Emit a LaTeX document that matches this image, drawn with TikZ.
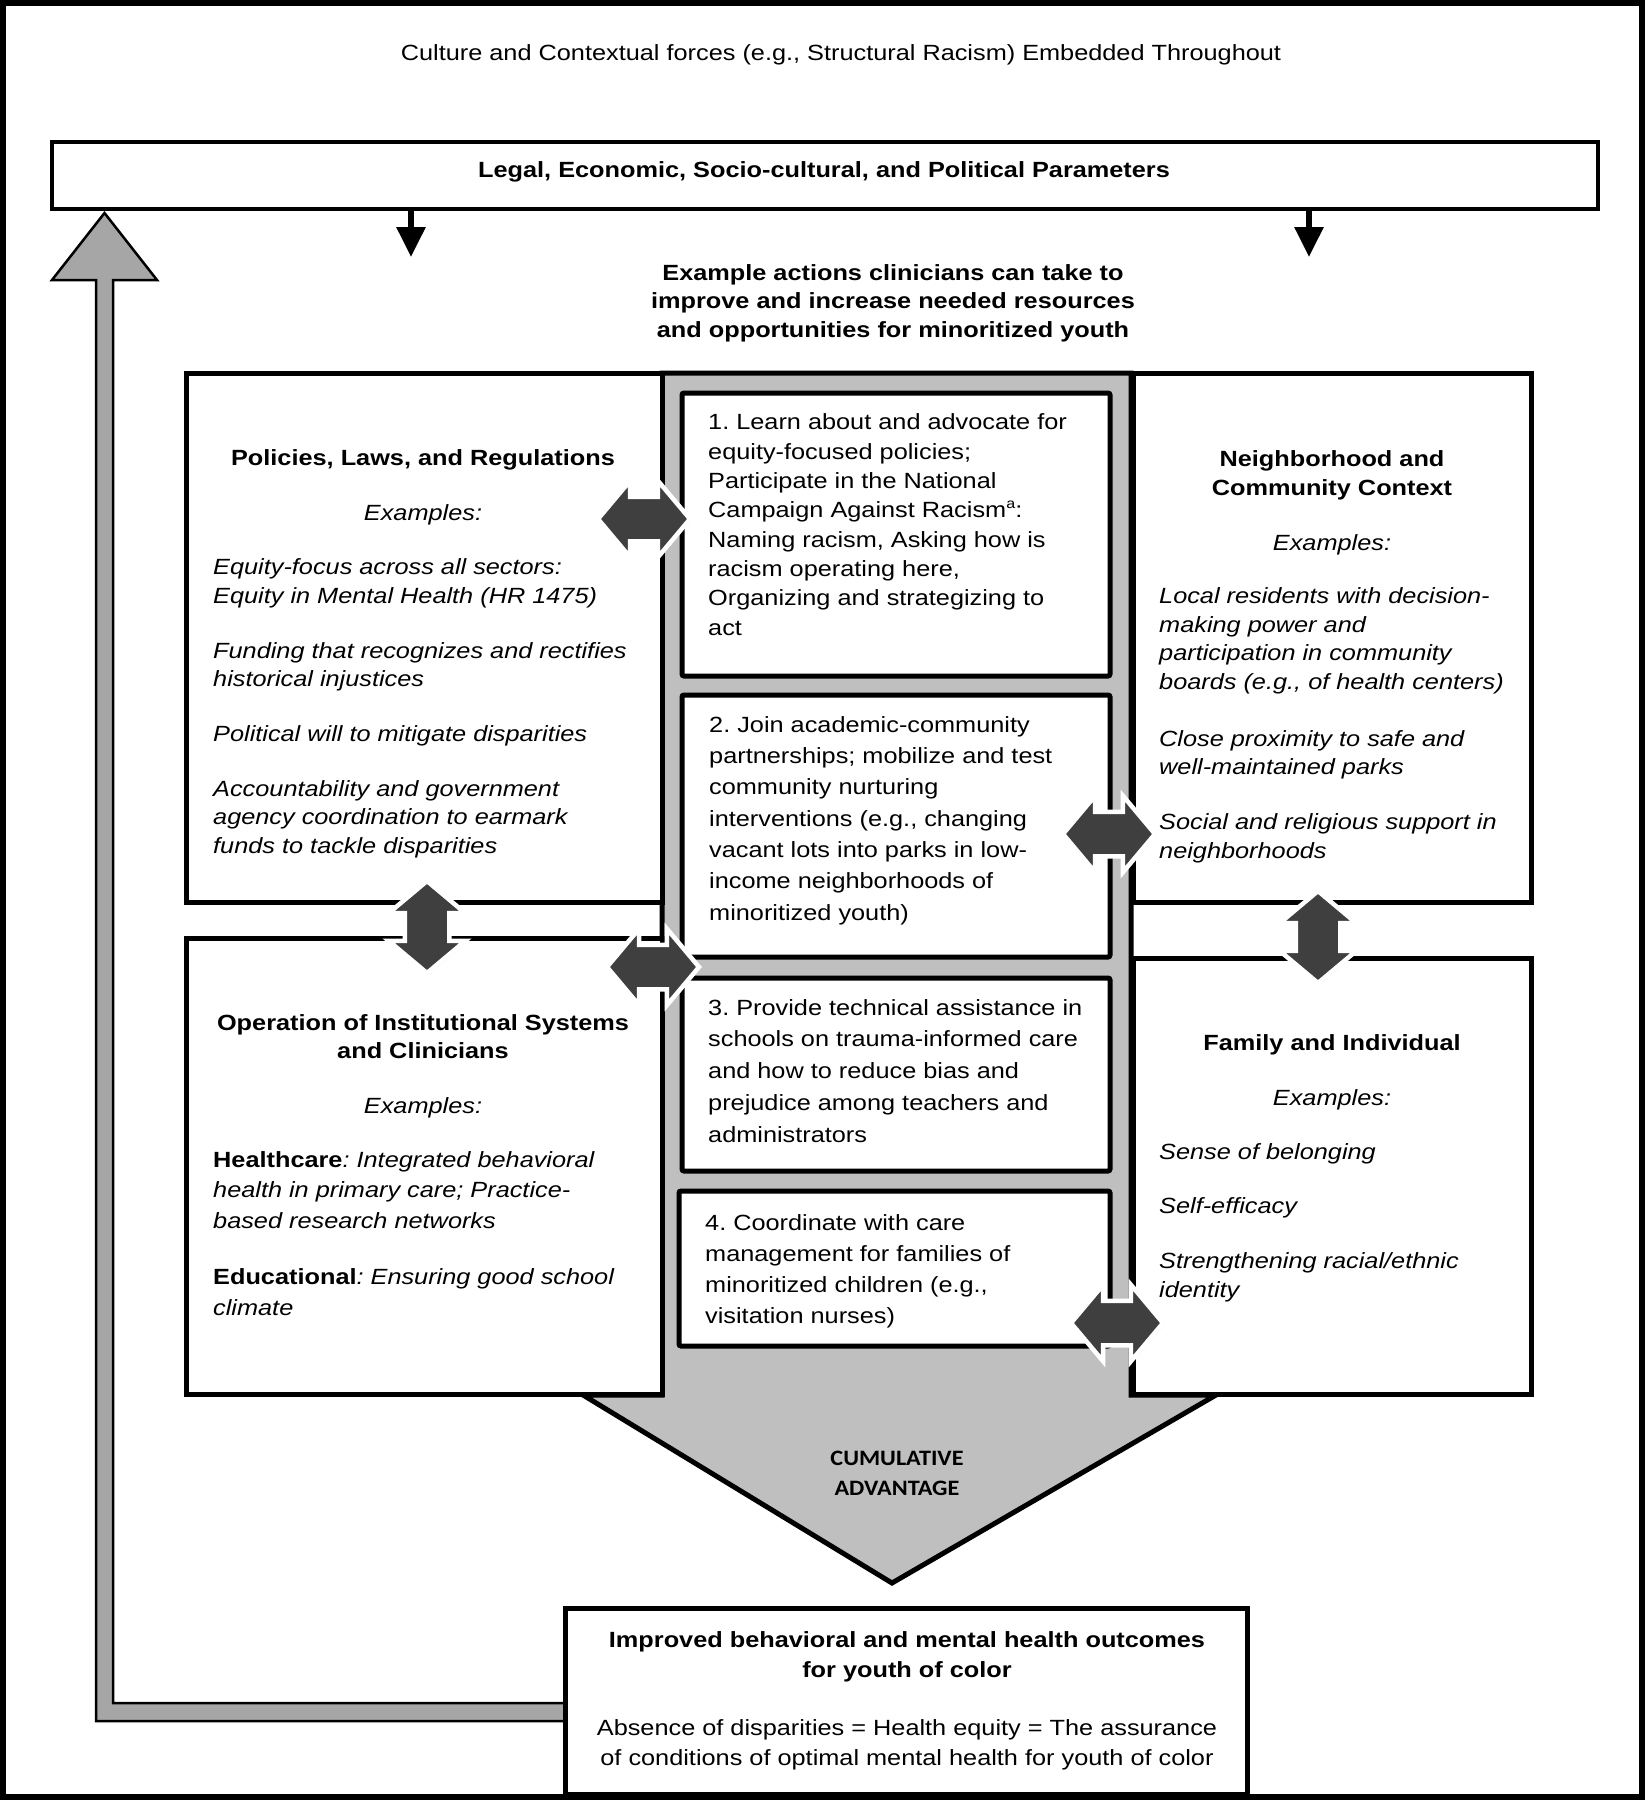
\documentclass[tikz,border=0pt]{standalone}
\usepackage{fontspec}
\setmainfont{Liberation Sans}[FakeStretch=1.15]
\newfontfamily\calibrifont{Carlito}[FakeStretch=1.1]
\usetikzlibrary{shapes.arrows,arrows.meta,shadows}
\definecolor{colgray}{HTML}{BFBFBF}
\definecolor{feedgray}{HTML}{A6A6A6}
\definecolor{linkgray}{HTML}{3F3F3F}
\newcommand{\supa}{\raisebox{0.42em}{\fontsize{14}{14}\selectfont a}}
\frenchspacing
\tikzset{
  frame/.style={draw, line width=5pt, fill=white, inner sep=0pt},
  actbox/.style={frame, rounded corners=2pt},
  hdr/.style={font=\fontsize{22}{29}\selectfont\bfseries, align=center, inner sep=0pt, anchor=base},
  exlabel/.style={font=\fontsize{22}{29}\selectfont\itshape, inner sep=0pt, anchor=base},
  txt/.style={font=\fontsize{22}{#1}\selectfont, align=left, inner sep=0pt, anchor=base west},
  itxt/.style={txt=#1, font=\fontsize{22}{#1}\selectfont\itshape},
  link/.style={double arrow, double arrow tip angle=100, double arrow head extend=16pt,
    minimum height=92pt, minimum width=72pt, inner xsep=0pt, inner ysep=20pt,
    fill=linkgray, draw=white, line width=4.5pt,
    drop shadow={opacity=0.35, shadow xshift=1.5pt, shadow yshift=-1.5pt}},
  pushdown/.style={line width=6pt, -{Triangle[width=28pt,length=30pt]}}
}
\begin{document}
\begin{tikzpicture}[x=1pt, y=-1pt]
\useasboundingbox (0,0) rectangle (1645,1800);
\draw[line width=6pt] (3,3) rectangle (1642,1797);
\node[anchor=base, inner sep=0pt, font=\fontsize{22}{29}\selectfont] (culture) at (841,60) {Culture and Contextual forces (e.g., Structural Racism) Embedded Throughout};

% feedback loop back to the parameters
\draw[line width=2.5pt, fill=feedgray] (565,1703) -- (113,1703) -- (113,280) -- (157,280) -- (104.5,213) -- (52,280) -- (96,280) -- (96,1721) -- (565,1721) -- cycle;

\node[frame, line width=4pt, minimum width=1546pt, minimum height=67pt] (legal) at (825,175.5) {};
\node[hdr] (legaltxt) at (824,177) {Legal, Economic, Socio-cultural, and Political Parameters};
\foreach \x/\n in {411/l,1309/r} {\coordinate (d\n) at (\x,257); \draw[pushdown] (legal.south -| d\n) -- (d\n);}
% multi-line texts are placed by the baseline of their last line
\node[hdr, font=\fontsize{22}{28.5}\selectfont\bfseries] (actionhdr) at (893,337) {Example actions clinicians can take to\\improve and increase needed resources\\and opportunities for minoritized youth};

% column and cumulative chevron
\draw[line width=5pt, fill=colgray] (662,373) -- (1131,373) -- (1131,1395) -- (1216,1395) -- (892,1583) -- (583,1395) -- (662,1395) -- cycle;
\node[font=\calibrifont\bfseries\fontsize{22}{30}\selectfont, align=center, anchor=base, inner sep=0pt] (cumul) at (897,1495) {CUMULATIVE\\ADVANTAGE};

% levels
\node[frame, minimum width=476pt, minimum height=529pt] (policy) at (424,637.5) {};
\node[frame, minimum width=476pt, minimum height=456pt] (operation) at (424,1166) {};
\node[frame, minimum width=398pt, minimum height=529pt] (neighbor) at (1332,637.5) {};
\node[frame, minimum width=398pt, minimum height=436pt] (family) at (1332,1176) {};

\node[hdr] (policyhdr) at (423,465) {Policies, Laws, and Regulations};
\node[exlabel] (policyex) at (423,520) {Examples:};
\node[itxt=28.3] (policylist) at (213,853) {Equity-focus across all sectors:\\Equity in Mental Health (HR 1475)\\[26.7pt]Funding that recognizes and rectifies\\historical injustices\\[26.7pt]Political will to mitigate disparities\\[26.7pt]Accountability and government\\agency coordination to earmark\\funds to tackle disparities};

\node[hdr, font=\fontsize{22}{28}\selectfont\bfseries] (operationhdr) at (423,1058) {Operation of Institutional Systems\\and Clinicians};
\node[exlabel] (operationex) at (423,1113) {Examples:};
\node[itxt=30.5] (operationlist) at (213,1315) {\textbf{\textup{Healthcare}}: Integrated behavioral\\health in primary care; Practice-\\based research networks\\[26pt]\textbf{\textup{Educational}}: Ensuring good school\\climate};

\node[hdr] (neighborhdr) at (1332,495) {Neighborhood and\\Community Context};
\node[exlabel] (neighborex) at (1332,550) {Examples:};
\node[itxt=28.5] (neighborlist) at (1159,858) {Local residents with decision-\\making power and\\participation in community\\boards (e.g., of health centers)\\[28.5pt]Close proximity to safe and\\well-maintained parks\\[26.5pt]Social and religious support in\\neighborhoods};

\node[hdr] (familyhdr) at (1332,1050) {Family and Individual};
\node[exlabel] (familyex) at (1332,1105) {Examples:};
\node[itxt=29] (familylist) at (1159,1297) {Sense of belonging\\[25pt]Self-efficacy\\[26pt]Strengthening racial/ethnic\\identity};

% actions
\node[actbox, minimum width=428pt, minimum height=283pt] (act1) at (896,534.5) {};
\node[actbox, minimum width=428pt, minimum height=262pt] (act2) at (896,826) {};
\node[actbox, minimum width=428pt, minimum height=193pt] (act3) at (896,1074.5) {};
\node[actbox, minimum width=431pt, minimum height=155pt] (act4) at (894.5,1268.5) {};
\node[txt=29.3] (act1txt) at (708,635) {1. Learn about and advocate for\\equity-focused policies;\\Participate in the National\\Campaign Against Racism\supa:\\Naming racism, Asking how is\\racism operating here,\\Organizing and strategizing to\\act};
\node[txt=31.3] (act2txt) at (709,920) {2. Join academic-community\\partnerships; mobilize and test\\community nurturing\\interventions (e.g., changing\\vacant lots into parks in low-\\income neighborhoods of\\minoritized youth)};
\node[txt=31.7] (act3txt) at (708,1142) {3. Provide technical assistance in\\schools on trauma-informed care\\and how to reduce bias and\\prejudice among teachers and\\administrators};
\node[txt=31] (act4txt) at (705,1323) {4. Coordinate with care\\management for families of\\minoritized children (e.g.,\\visitation nurses)};

% outcome
\node[frame, minimum width=682pt, minimum height=186pt] (outcome) at (906,1701) {};
\node[hdr, font=\fontsize{22}{30}\selectfont\bfseries] (outcomehdr) at (907,1677) {Improved behavioral and mental health outcomes\\for youth of color};
\node[anchor=base, align=center, inner sep=0pt, font=\fontsize{22}{30}\selectfont] (outcometxt) at (907,1765) {Absence of disparities = Health equity = The assurance\\of conditions of optimal mental health for youth of color};

% two-way links between levels
\foreach \n/\x/\y/\r in {1/644/519/0, 2/427/927/90, 3/653/967/0, 4/1109/834/0, 5/1318/937/90, 6/1117/1323/0}
  \node[link, rotate=\r] (link\n) at (\x,\y) {};
\end{tikzpicture}
\end{document}
